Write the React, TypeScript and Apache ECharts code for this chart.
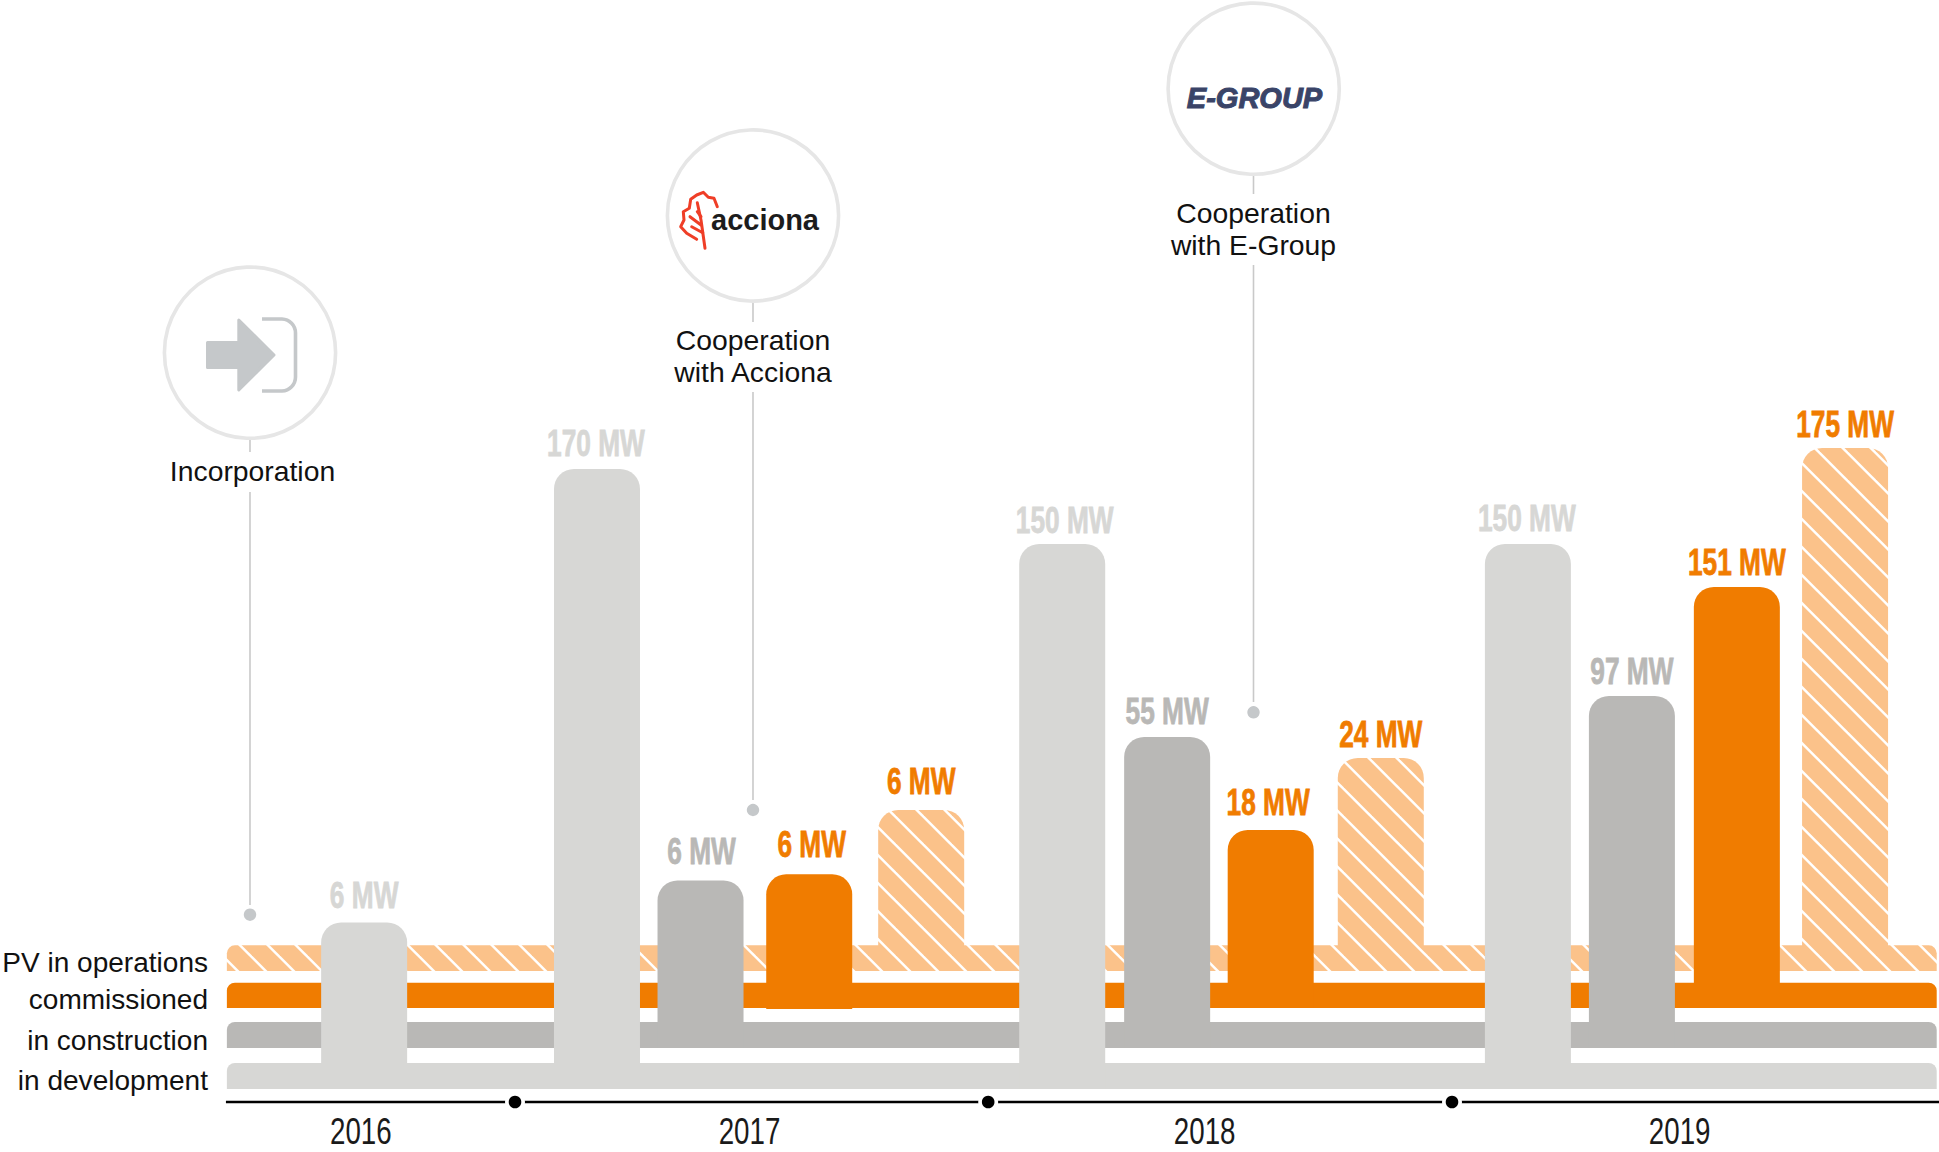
import React, { useEffect, useRef } from "react";
import * as echarts from "echarts";

// ---- data (x in fractional years, y in drawn height above the baseline) ----
const years = ["2016", "2017", "2018", "2019"];
const yearLabelPos = [2016.671, 2017.5005, 2018.472, 2019.486];
const yearBoundaries = [2017, 2018.01, 2019];

const stages = ["in development", "in construction", "commissioned", "PV in operations"];
const stageBase = [0, 41, 81, 118];
const stageBandTop = [26, 67, 106.3, 143.7];

const devPos = [2016.678, 2017.175, 2018.168, 2019.162];
const devMW = [6, 170, 150, 150];
const devTop = [166.5, 620, 545, 545];

const consPos = [2017.396, 2018.392, 2019.384];
const consMW = [6, 55, 97];
const consTop = [208.5, 352, 393];

const commPos = [2017.628, 2018.613, 2019.608];
const commMW = [6, 18, 151];
const commTop = [214.7, 259, 502];
const commBase = [80, 81, 81];

const opsPos = [2017.867, 2018.848, 2019.839];
const opsMW = [6, 24, 175];
const opsTop = [279, 331, 641];

const callouts = [
  { lines: ["Incorporation"] },
  { lines: ["Cooperation", "with Acciona"], logo: "acciona" },
  { lines: ["Cooperation", "with E-Group"], logo: "E-GROUP" },
];

// ---- style ----
const ORANGE = "#F07C00";
const HATCH = "#FBC28A";
const DEV = "#D7D7D5";
const CONS = "#B9B8B6";
const RING = "#E6E6E6";
const ICON = "#C5C8CA";
const STEM = "#C9C9C9";
const INK = "#111111";
const SANS = "'Liberation Sans', Arial, sans-serif";
const YEAR_PX = 468.5;
const X_MIN = 2017 - 515 / YEAR_PX;
const X_MAX = 2017 + (1939 - 515) / YEAR_PX;
const BAR_W = 86 / YEAR_PX;
const STRIP_START = 2016.385;
const STRIP_END = 2020.0346;

// label placement tweaks, in pixels
const devLift = [27.5, 26, 24, 26];
const devShift = [0, -1, 2.5, -1];
const consLift = [29, 26, 25];
const consShift = [1, 0, 0];
const commLift = [30, 27.5, 25];
const commShift = [2.5, -2.5, 0];
const opsLift = [29, 24, 24];
const opsShift = [0, 0, 0];
const rowDrop = [0, 1, 0, 0];

function makeHatch() {
  const c = document.createElement("canvas");
  c.width = 28;
  c.height = 28;
  const g = c.getContext("2d")!;
  g.fillStyle = HATCH;
  g.fillRect(0, 0, 28, 28);
  g.strokeStyle = "#ffffff";
  g.lineWidth = 2.5;
  for (let k = -3; k <= 3; k++) {
    const o = 5.3 + k * 28;
    g.beginPath();
    g.moveTo(-28, -28 + o);
    g.lineTo(56, 56 + o);
    g.stroke();
  }
  return c;
}

function stripSeries(i: number, fill: any) {
  return {
    type: "custom",
    silent: true,
    clip: false,
    data: [[STRIP_START, stageBase[i], stageBandTop[i]]],
    renderItem: (_: any, api: any) => {
      const a = api.coord([api.value(0), api.value(1)]);
      const b = api.coord([STRIP_END, api.value(2)]);
      return {
        type: "group",
        children: [
          {
            type: "rect",
            shape: { x: a[0], y: b[1], width: b[0] - a[0], height: a[1] - b[1], r: [8, 8, 0, 0] },
            style: { fill },
          },
          {
            type: "text",
            x: 208,
            y: a[1] - 8.6 + rowDrop[i],
            scaleX: 1.02,
            style: {
              text: stages[i],
              fontFamily: SANS,
              fontSize: 27.5,
              fill: INK,
              align: "right",
              verticalAlign: "middle",
            },
          },
        ],
      };
    },
  };
}

function barSeries(
  pos: number[],
  tops: number[],
  mw: number[],
  base: number[],
  fill: any,
  labelColor: string,
  lift: number[],
  shift: number[],
) {
  return {
    type: "custom",
    silent: true,
    clip: false,
    data: pos.map((p, i) => [p, base[i], tops[i]]),
    renderItem: (params: any, api: any) => {
      const a = api.coord([api.value(0) - BAR_W / 2, api.value(1)]);
      const b = api.coord([api.value(0) + BAR_W / 2, api.value(2)]);
      return {
        type: "group",
        children: [
          {
            type: "rect",
            shape: { x: a[0], y: b[1], width: b[0] - a[0], height: a[1] - b[1], r: [20, 20, 0, 0] },
            style: { fill },
          },
          {
            type: "text",
            x: (a[0] + b[0]) / 2 + shift[params.dataIndex],
            y: b[1] - lift[params.dataIndex],
            scaleX: 0.71,
            style: {
              text: `${mw[params.dataIndex]} MW`,
              fontFamily: SANS,
              fontWeight: "bold",
              fontSize: 37,
              fill: labelColor,
              stroke: labelColor,
              lineWidth: 0.8,
              align: "center",
              verticalAlign: "middle",
            },
          },
        ],
      };
    },
  };
}

const timelineSeries = {
  type: "custom",
  silent: true,
  clip: false,
  data: [[STRIP_START - 0.002, -13]],
  renderItem: (_: any, api: any) => {
    const s = api.coord([api.value(0), api.value(1)]);
    const e = api.coord([X_MAX, api.value(1)]);
    return {
      type: "line",
      shape: { x1: s[0], y1: s[1], x2: e[0], y2: e[1] },
      style: { stroke: "#000", lineWidth: 2.6 },
    };
  },
};

const timelineDots = {
  type: "custom",
  silent: true,
  clip: false,
  data: yearBoundaries.map((v) => [v, -13]),
  renderItem: (_: any, api: any) => {
    const p = api.coord([api.value(0), api.value(1)]);
    return {
      type: "group",
      children: [
        { type: "circle", shape: { cx: p[0], cy: p[1], r: 10 }, style: { fill: "#fff" } },
        { type: "circle", shape: { cx: p[0], cy: p[1], r: 6.3 }, style: { fill: "#000" } },
      ],
    };
  },
};

const yearSeries = {
  type: "custom",
  silent: true,
  clip: false,
  data: yearLabelPos.map((v) => [v, -42]),
  renderItem: (params: any, api: any) => {
    const p = api.coord([api.value(0), api.value(1)]);
    return {
      type: "text",
      x: p[0],
      y: p[1],
      scaleX: 0.74,
      style: {
        text: years[params.dataIndex],
        fontFamily: SANS,
        fontSize: 37.5,
        fill: "#1a1a1a",
        align: "center",
        verticalAlign: "middle",
      },
    };
  },
};

function seg(x: number, y1: number, y2: number) {
  return { type: "line", shape: { x1: x, y1, x2: x, y2 }, style: { stroke: STEM, lineWidth: 1.6 } };
}
function ring(cx: number, cy: number) {
  return { type: "circle", shape: { cx, cy, r: 85.6 }, style: { fill: "#fff", stroke: RING, lineWidth: 3.6 } };
}
function dot(cx: number, cy: number) {
  return { type: "circle", shape: { cx, cy, r: 6.2 }, style: { fill: ICON } };
}
function caption(text: string, x: number, baseline: number) {
  return {
    type: "text",
    x,
    y: baseline - 9.6,
    scaleX: 1.03,
    style: {
      text,
      fontFamily: SANS,
      fontSize: 27.5,
      fill: INK,
      align: "center",
      verticalAlign: "middle",
    },
  };
}
function leaf(points: number[][]) {
  return {
    type: "polyline",
    shape: { points },
    style: { stroke: "#EF3E27", lineWidth: 3, fill: "none", lineJoin: "round", lineCap: "round" },
  };
}

echarts.graphic.registerShape(
  "bracket",
  echarts.graphic.extendPath("M262 319 H282 A14 14 0 0 1 295.5 333 V377 A14 14 0 0 1 282 391 H262", {}),
);

const graphicElements: any[] = [
  // Incorporation
  seg(250, 439, 452),
  caption(callouts[0].lines[0], 252.5, 481),
  seg(250, 492, 905),
  dot(250, 914.7),
  ring(250, 352.7),
  {
    type: "polygon",
    shape: {
      points: [
        [207.5, 342.5],
        [238.8, 342.5],
        [238.8, 320],
        [274, 355],
        [238.8, 390],
        [238.8, 367.5],
        [207.5, 367.5],
      ],
    },
    style: { fill: ICON, stroke: ICON, lineWidth: 3, lineJoin: "round" },
  },
  { type: "bracket", x: 0, y: 0, style: { fill: "none", stroke: ICON, lineWidth: 3.6 } },

  // Acciona
  seg(753, 302, 322),
  caption(callouts[1].lines[0], 753, 350),
  caption(callouts[1].lines[1], 753, 382.7),
  seg(753, 392, 800),
  dot(753, 810),
  ring(753, 215.5),
  leaf([
    [717.3, 206.7],
    [714, 198.3],
    [708.3, 197.3],
    [703.3, 192.3],
    [696.7, 195],
    [690.7, 199.3],
    [689.3, 208.3],
    [683.3, 211.7],
    [684, 220],
    [680.7, 226.7],
    [686.7, 233.3],
    [696.7, 239.3],
  ]),
  leaf([
    [697.3, 202.7],
    [701, 220],
    [705, 248.3],
  ]),
  leaf([
    [690, 216.7],
    [701, 225],
  ]),
  leaf([
    [691.7, 226.7],
    [702.7, 232.7],
  ]),
  leaf([
    [697.3, 211.7],
    [701, 216.7],
  ]),
  {
    type: "text",
    style: {
      text: callouts[1].logo,
      x: 711,
      y: 220,
      fontFamily: SANS,
      fontWeight: "bold",
      fontSize: 29,
      fill: "#1c1c1c",
      align: "left",
      verticalAlign: "middle",
    },
  },

  // E-Group
  seg(1253.5, 175, 194),
  caption(callouts[2].lines[0], 1253.5, 223.7),
  caption(callouts[2].lines[1], 1253.5, 255.3),
  seg(1253.5, 265, 702),
  dot(1253.5, 712.3),
  ring(1253.7, 88.7),
  {
    type: "text",
    style: {
      text: callouts[2].logo,
      x: 1254.5,
      y: 97.5,
      fontFamily: SANS,
      fontWeight: "bold",
      fontStyle: "italic",
      fontSize: 29,
      fill: "#3A4468",
      stroke: "#3A4468",
      lineWidth: 1,
      align: "center",
      verticalAlign: "middle",
    },
  },
];

export default function App() {
  const ref = useRef<HTMLDivElement>(null);
  useEffect(() => {
    const chart = echarts.init(ref.current!, undefined, { renderer: "svg" });
    const hatchFill: any = { image: makeHatch(), repeat: "repeat" };
    const same = (n: number, v: number) => new Array(n).fill(v);
    chart.setOption({
      animation: false,
      backgroundColor: "#ffffff",
      grid: { left: 0, right: 0, top: 0, bottom: 0 },
      xAxis: { type: "value", min: X_MIN, max: X_MAX, show: false },
      yAxis: { type: "value", min: -63, max: 1089, show: false },
      graphic: { elements: graphicElements },
      series: [
        stripSeries(3, hatchFill),
        barSeries(opsPos, opsTop, opsMW, same(3, stageBase[3]), hatchFill, ORANGE, opsLift, opsShift),
        stripSeries(2, ORANGE),
        barSeries(commPos, commTop, commMW, commBase, ORANGE, ORANGE, commLift, commShift),
        stripSeries(1, CONS),
        barSeries(consPos, consTop, consMW, same(3, stageBase[1]), CONS, CONS, consLift, consShift),
        stripSeries(0, DEV),
        barSeries(devPos, devTop, devMW, same(4, stageBase[0]), DEV, DEV, devLift, devShift),
        timelineSeries,
        timelineDots,
        yearSeries,
      ],
    } as any);
    return () => chart.dispose();
  }, []);
  return <div ref={ref} style={{ position: "absolute", left: 0, top: 0, width: 1939, height: 1152 }} />;
}
